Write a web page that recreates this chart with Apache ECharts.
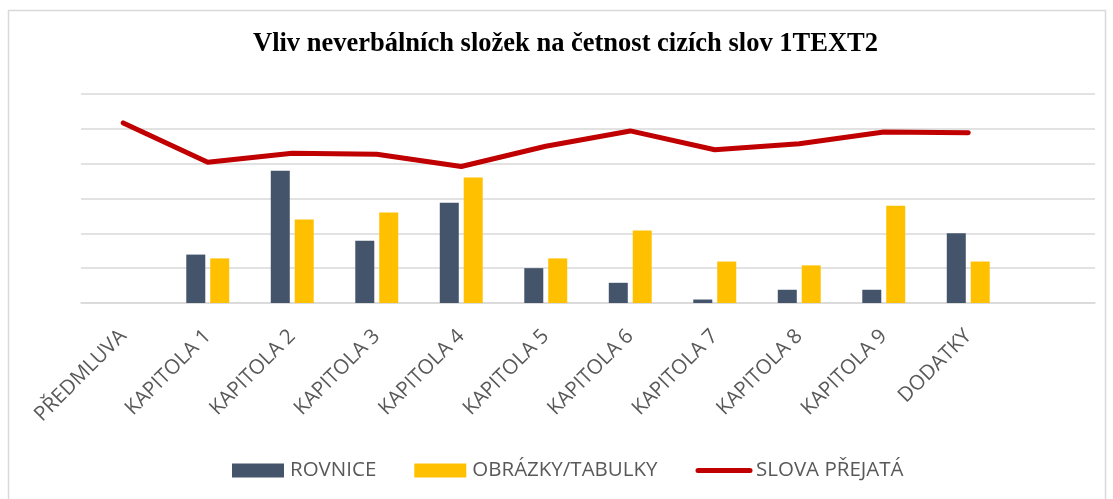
<!DOCTYPE html>
<html>
<head>
<meta charset="utf-8">
<script src="https://cdn.jsdelivr.net/npm/echarts@6/dist/echarts.min.js"></script>
<style>
  html, body { margin: 0; padding: 0; background: #fff; }
  #chart { width: 1113px; height: 499px; }
</style>
</head>
<body>
<div id="chart"></div>
<script>
// chart data (units = one gridline step)
const categories = ['PŘEDMLUVA', 'KAPITOLA 1', 'KAPITOLA 2', 'KAPITOLA 3', 'KAPITOLA 4', 'KAPITOLA 5',
  'KAPITOLA 6', 'KAPITOLA 7', 'KAPITOLA 8', 'KAPITOLA 9', 'DODATKY', '']
const rovnice = ['-', 1.39, 3.8, 1.79, 2.88, 1.0, 0.58, 0.1, 0.38, 0.38, 2.0, '-']
const obrazky = ['-', 1.28, 2.4, 2.6, 3.6, 1.28, 2.08, 1.19, 1.08, 2.79, 1.19, '-']
const slovaPrejata = [5.17, 4.04, 4.3, 4.27, 3.92, 4.5, 4.94, 4.4, 4.57, 4.91, 4.89, '-']
const seriesNames = ['ROVNICE', 'OBRÁZKY/TABULKY', 'SLOVA PŘEJATÁ']

const labelFont = 'Open Sans'
const gray = '#595959'

const myChart = echarts.init(document.getElementById('chart'))
const option = {
  animation: false,
  color: ['#44546A', '#FFC000', '#C00000'],
  // chart area frame
  graphic: [{
    type: 'rect',
    shape: { x: 8.5, y: 10.5, width: 1097, height: 500 },
    style: { fill: 'none', stroke: '#D9D9D9', lineWidth: 1.5 },
    silent: true
  }],
  title: {
    text: 'Vliv neverbálních složek na četnost cizích slov 1TEXT2',
    left: 253,
    top: 31,
    padding: 0,
    textStyle: {
      fontFamily: 'Liberation Serif',
      fontWeight: 'bold',
      fontSize: 26.5,
      color: '#000'
    }
  },
  legend: {
    data: [
      { name: seriesNames[0], icon: 'rect' },
      { name: seriesNames[1], icon: 'rect' },
      { name: seriesNames[2], itemStyle: { opacity: 0 }, lineStyle: { width: 5, cap: 'round' } }
    ],
    left: 232,
    top: 460,
    padding: 0,
    itemWidth: 52,
    itemHeight: 14,
    itemGap: 38,
    textStyle: {
      fontFamily: labelFont,
      fontSize: 20.5,
      color: gray,
      padding: [0, 0, 0, 1]
    }
  },
  grid: {
    left: 81,
    right: 18,
    top: 94,
    bottom: 196,
    containLabel: false
  },
  xAxis: {
    type: 'category',
    data: categories,
    axisLine: { lineStyle: { color: '#D9D9D9', width: 1.5 } },
    axisTick: { show: false },
    axisLabel: {
      rotate: 45,
      interval: 0,
      margin: 30,
      fontFamily: labelFont,
      fontSize: 20.5,
      color: gray
    }
  },
  yAxis: {
    type: 'value',
    min: 0,
    max: 6,
    interval: 1,
    axisLine: { show: false },
    axisTick: { show: false },
    axisLabel: { show: false },
    splitLine: { lineStyle: { color: '#D9D9D9', width: 1.5 } }
  },
  series: [
    {
      name: seriesNames[0],
      type: 'bar',
      barWidth: 19,
      barGap: '26%',
      data: rovnice
    },
    {
      name: seriesNames[1],
      type: 'bar',
      barWidth: 19,
      data: obrazky
    },
    {
      name: seriesNames[2],
      type: 'line',
      symbol: 'none',
      lineStyle: { width: 5, cap: 'round', join: 'round' },
      data: slovaPrejata
    }
  ]
}
myChart.setOption(option, true)
</script>
</body>
</html>
